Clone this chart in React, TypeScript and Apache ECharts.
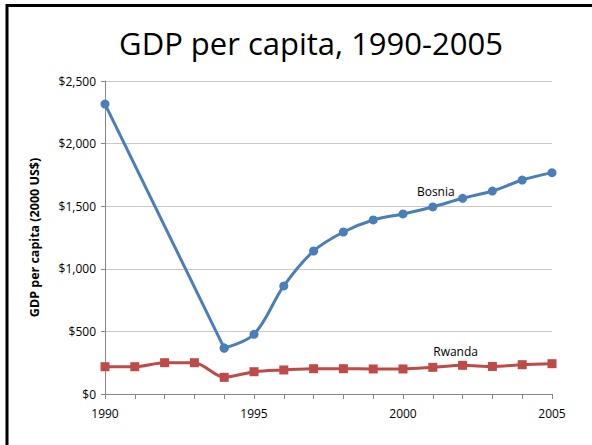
import React, { useEffect, useRef } from "react";
import * as echarts from "echarts";

const bosniaYears = [1990, 1994, 1995, 1996, 1997, 1998, 1999, 2000, 2001, 2002, 2003, 2004, 2005];
const bosniaGdp = [2316, 367, 477, 863, 1142, 1294, 1390, 1438, 1494, 1563, 1621, 1709, 1768];
const rwandaYears = [1990, 1991, 1992, 1993, 1994, 1995, 1996, 1997, 1998, 1999, 2000, 2001, 2002, 2003, 2004, 2005];
const rwandaGdp = [218, 218, 250, 250, 133, 178, 192, 202, 202, 200, 200, 213, 229, 220, 234, 242];
const xTicks = [1990, 1995, 2000, 2005];
const yTicks = [0, 500, 1000, 1500, 2000, 2500];

const FONT = "'Open Sans', 'Noto Sans', sans-serif";
const BLUE = "#4a7ebb";
const RED = "#be4b48";

export default function App() {
  const ref = useRef<HTMLDivElement>(null);
  useEffect(() => {
    document.body.style.margin = "0";
    const chart = echarts.init(ref.current!, null, { renderer: "svg" });
    const bosniaLabelYear = 2001;
    const rwandaLabelYear = 2002;
    const labelStyle = { fontFamily: FONT, fontSize: 12, color: "#000" };
    // Bosnia has a data gap 1991-1993: the first leg is drawn straight, the rest smoothed
    const gapEnd = 2;
    chart.setOption({
      animation: false,
      backgroundColor: "#ffffff",
      title: {
        text: "GDP per capita, 1990-2005",
        left: 306,
        textAlign: "center",
        top: 22,
        textStyle: { fontFamily: FONT, fontSize: 31, fontWeight: "normal", color: "#000000" },
      },
      graphic: [
        { type: "line", shape: { x1: 7, y1: 4, x2: 7, y2: 445 }, style: { stroke: "#000", lineWidth: 3 } },
        { type: "line", shape: { x1: 6, y1: 5.5, x2: 592, y2: 5.5 }, style: { stroke: "#000", lineWidth: 3 } },
      ],
      grid: { left: 105, right: 40, top: 81, bottom: 51, containLabel: false },
      xAxis: {
        type: "value",
        min: xTicks[0],
        max: xTicks[xTicks.length - 1],
        interval: 5,
        axisLine: { show: true, lineStyle: { color: "#868686", width: 1 } },
        axisTick: { show: true, length: 5, lineStyle: { color: "#868686" } },
        minorTick: { show: true, splitNumber: 5, length: 5, lineStyle: { color: "#868686" } },
        splitLine: { show: false },
        axisLabel: { fontFamily: FONT, fontSize: 12, color: "#000", margin: 13, formatter: (v: number) => String(v) },
      },
      yAxis: {
        type: "value",
        min: yTicks[0],
        max: yTicks[yTicks.length - 1],
        interval: 500,
        name: "GDP per capita (2000 US$)",
        nameLocation: "middle",
        nameGap: 64,
        nameTextStyle: { fontFamily: FONT, fontSize: 12.5, fontWeight: "bold", color: "#000" },
        axisLine: { show: true, lineStyle: { color: "#868686", width: 1 } },
        axisTick: { show: true, length: 4, lineStyle: { color: "#868686" } },
        splitLine: { show: true, lineStyle: { color: "#c8c8c8", width: 1 } },
        axisLabel: {
          fontFamily: FONT,
          fontSize: 12,
          color: "#000",
          margin: 9,
          formatter: (v: number) => "$" + v.toLocaleString("en-US"),
        },
      },
      series: [
        {
          name: "Bosnia",
          type: "line",
          smooth: false,
          symbol: "circle",
          symbolSize: 9,
          lineStyle: { color: BLUE, width: 3 },
          itemStyle: { color: BLUE },
          data: bosniaYears.slice(0, gapEnd).map((y, i) => [y, bosniaGdp[i]]),
        },
        {
          name: "Bosnia",
          type: "line",
          smooth: 0.35,
          symbol: "circle",
          symbolSize: 9,
          lineStyle: { color: BLUE, width: 3 },
          itemStyle: { color: BLUE },
          data: bosniaYears.slice(gapEnd - 1).map((y, j) => {
            const i = j + gapEnd - 1;
            const d: any = { value: [y, bosniaGdp[i]] };
            if (y === bosniaLabelYear) {
              d.label = { show: true, position: "top", formatter: "Bosnia", offset: [3, 0], ...labelStyle };
            }
            return d;
          }),
        },
        {
          name: "Rwanda",
          type: "line",
          smooth: 0.3,
          symbol: "rect",
          symbolSize: 9,
          lineStyle: { color: RED, width: 3 },
          itemStyle: { color: RED },
          data: rwandaYears.map((y, i) => {
            const d: any = { value: [y, rwandaGdp[i]] };
            if (y === rwandaLabelYear) {
              d.label = { show: true, position: "top", formatter: "Rwanda", offset: [-7, 2], ...labelStyle };
            }
            return d;
          }),
        },
      ],
    });
    return () => chart.dispose();
  }, []);
  return <div ref={ref} style={{ width: 592, height: 445 }} />;
}
